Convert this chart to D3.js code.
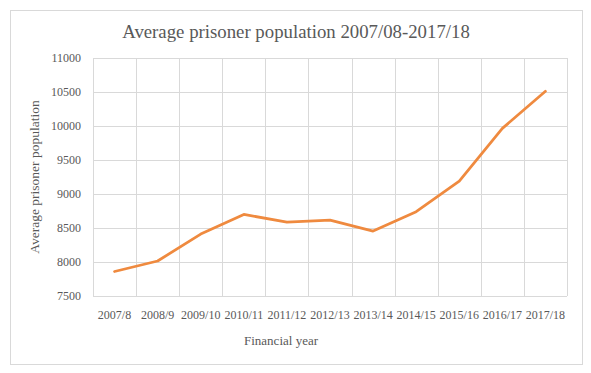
<!DOCTYPE html>
<html>
<head>
<meta charset="utf-8">
<script src="https://cdn.jsdelivr.net/npm/d3@7"></script>
<style>
  html, body { margin: 0; padding: 0; background: #fff; }
  svg { display: block; }
  text { font-family: "Liberation Serif", "Times New Roman", serif; fill: #595959; }
</style>
</head>
<body>
<svg id="chart" width="591" height="373"></svg>
<script>
const categories = ["2007/8","2008/9","2009/10","2010/11","2011/12","2012/13","2013/14","2014/15","2015/16","2016/17","2017/18"];
const population = [7860, 8015, 8410, 8700, 8585, 8615, 8455, 8740, 9190, 9965, 10510];
const yTicks = [7500, 8000, 8500, 9000, 9500, 10000, 10500, 11000];
const titleText = "Average prisoner population 2007/08-2017/18";
const xTitle = "Financial year";
const yTitle = "Average prisoner population";

const svg = d3.select("#chart");
const W = 591, H = 373;
const plot = { left: 93, right: 567, top: 58, bottom: 296 };
const gridColor = "#d9d9d9";

svg.append("rect").attr("x", 0).attr("y", 0).attr("width", W).attr("height", H).attr("fill", "#fff");
svg.append("rect").attr("x", 10.5).attr("y", 10.5).attr("width", 572).attr("height", 354)
  .attr("fill", "none").attr("stroke", gridColor).attr("stroke-width", 1);

const x = d3.scaleBand().domain(categories).range([plot.left, plot.right]).padding(0);
const y = d3.scaleLinear().domain([7500, 11000]).range([plot.bottom, plot.top]);

// horizontal gridlines
svg.append("g").selectAll("line").data(yTicks).join("line")
  .attr("x1", plot.left).attr("x2", plot.right)
  .attr("y1", d => Math.round(y(d)) + 0.5).attr("y2", d => Math.round(y(d)) + 0.5)
  .attr("stroke", gridColor).attr("stroke-width", 1);

// vertical gridlines at band boundaries
const bounds = categories.map(c => x(c)).concat([x(categories[categories.length - 1]) + x.bandwidth()]);
svg.append("g").selectAll("line").data(bounds).join("line")
  .attr("x1", d => Math.round(d) + 0.5).attr("x2", d => Math.round(d) + 0.5)
  .attr("y1", plot.top).attr("y2", plot.bottom)
  .attr("stroke", gridColor).attr("stroke-width", 1);

// y axis labels
const yAxis = d3.axisLeft(y).tickValues(yTicks).tickSize(0).tickPadding(12).tickFormat(d3.format("d"));
const gy = svg.append("g").attr("transform", `translate(${plot.left},0)`).call(yAxis);
gy.select(".domain").remove();
gy.selectAll("text").attr("font-size", "12px").style("font-family", '"Liberation Serif", serif').attr("fill", "#595959");

// x axis labels
const xAxis = d3.axisBottom(x).tickSize(0).tickPadding(14);
const gx = svg.append("g").attr("transform", `translate(0,${plot.bottom})`).call(xAxis);
gx.select(".domain").remove();
gx.selectAll("text").attr("font-size", "12px").style("font-family", '"Liberation Serif", serif').attr("fill", "#595959");

// line
const line = d3.line()
  .x((d, i) => x(categories[i]) + x.bandwidth() / 2)
  .y(d => y(d));
svg.append("path").datum(population)
  .attr("d", line)
  .attr("fill", "none")
  .attr("stroke", "#EF8A3F")
  .attr("stroke-width", 2.75)
  .attr("stroke-linejoin", "round")
  .attr("stroke-linecap", "round");

// title
svg.append("text").attr("x", 296).attr("y", 38).attr("text-anchor", "middle")
  .attr("font-size", "18.8px").text(titleText);

// x title
svg.append("text").attr("x", 281).attr("y", 345).attr("text-anchor", "middle")
  .attr("font-size", "13px").text(xTitle);

// y title
svg.append("text").attr("transform", "translate(39,177) rotate(-90)").attr("text-anchor", "middle")
  .attr("font-size", "13.5px").text(yTitle);
</script>
</body>
</html>
